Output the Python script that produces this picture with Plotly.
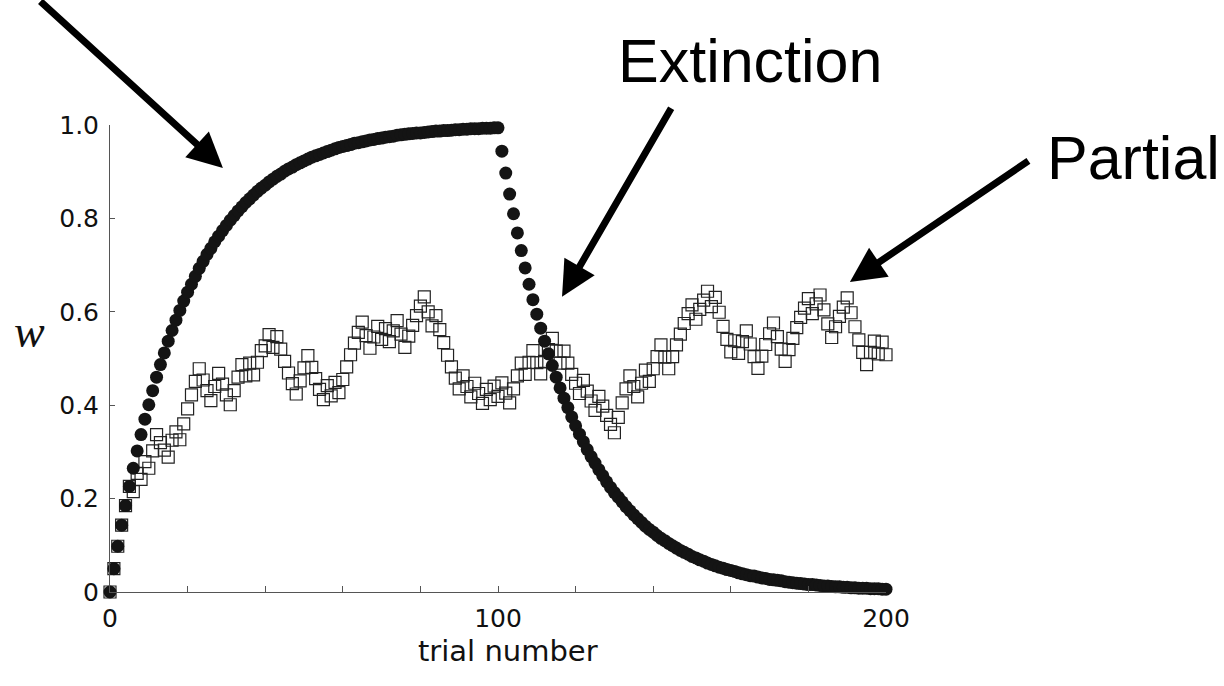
import plotly.graph_objects as go

# ---- data ----
trials = list(range(0, 201))

acquisition = [0, .050, .098, .143, .185, .226, .265, .302, .337, .370,
               .401, .431, .460, .487, .512, .537, .560, .582, .603, .623,
               .642, .659, .676, .693, .708, .723, .736, .750, .762, .774,
               .785, .796, .806, .816, .825, .834, .842, .850, .858, .865,
               .871, .878, .884, .890, .895, .901, .906, .910, .915, .919,
               .923, .927, .931, .934, .937, .940, .943, .946, .949, .952,
               .954, .956, .958, .961, .962, .964, .966, .968, .969, .971,
               .972, .974, .975, .976, .978, .979, .980, .981, .982, .983,
               .983, .984, .985, .986, .987, .987, .988, .988, .989, .990,
               .990, .991, .991, .992, .992, .992, .993, .993, .993, .994,
               .994]
extinction = [.944, .897, .852, .810, .769, .731, .694, .659, .626, .595,
              .565, .537, .510, .485, .460, .437, .415, .395, .375, .356,
              .338, .322, .305, .290, .276, .262, .249, .236, .224, .213,
              .203, .193, .183, .174, .165, .157, .149, .141, .134, .128,
              .121, .115, .110, .104, .099, .094, .089, .085, .081, .076,
              .073, .069, .066, .062, .059, .056, .053, .051, .048, .046,
              .044, .041, .039, .037, .035, .034, .032, .030, .029, .027,
              .026, .025, .024, .022, .021, .020, .019, .018, .017, .016,
              .016, .015, .014, .013, .013, .012, .011, .011, .010, .010,
              .009, .009, .008, .008, .008, .007, .007, .007, .006, .006]
continuous = acquisition + extinction

partial = [0, .050, .098, .143, .185, .226, .215, .254, .241, .279,
           .265, .302, .337, .320, .304, .289, .325, .343, .326, .360,
           .392, .422, .451, .478, .454, .431, .410, .440, .468, .445,
           .422, .401, .431, .460, .487, .463, .490, .465, .492, .517,
           .527, .551, .524, .547, .520, .494, .469, .446, .424, .452,
           .480, .506, .481, .457, .434, .412, .442, .420, .449, .427,
           .455, .482, .508, .533, .556, .578, .549, .522, .546, .569,
           .541, .564, .536, .559, .581, .552, .524, .548, .571, .592,
           .612, .632, .600, .570, .592, .562, .534, .507, .482, .458,
           .435, .463, .440, .418, .447, .425, .404, .434, .412, .441,
           .419, .448, .426, .405, .435, .463, .490, .466, .492, .517,
           .491, .467, .494, .519, .543, .516, .490, .516, .490, .466,
           .447, .425, .453, .430, .409, .389, .419, .398, .378, .359,
           .341, .374, .405, .435, .463, .440, .418, .447, .475, .451,
           .478, .504, .529, .503, .478, .504, .529, .552, .575, .596,
           .615, .584, .605, .625, .644, .611, .631, .599, .569, .541,
           .514, .538, .511, .536, .559, .531, .504, .479, .505, .530,
           .553, .576, .547, .520, .494, .519, .543, .566, .588, .608,
           .628, .596, .617, .636, .604, .574, .545, .568, .590, .610,
           .630, .598, .568, .540, .513, .487, .513, .537, .510, .535,
           .508]

x_tickvals = [0, 20, 40, 60, 80, 100, 120, 140, 160, 180, 200]
x_ticktext = ["0", "", "", "", "", "100", "", "", "", "", "200"]
y_tickvals = [0, 0.2, 0.4, 0.6, 0.8, 1.0]
y_ticktext = ["0", "0.2", "0.4", "0.6", "0.8", "1.0"]

fig = go.Figure()

fig.add_trace(go.Scatter(
    x=trials, y=partial, mode="markers", cliponaxis=False,
    marker=dict(symbol="square-open", size=12, color="#222222",
                line=dict(width=1.2, color="#222222")),
    showlegend=False, hoverinfo="skip"))

fig.add_trace(go.Scatter(
    x=trials, y=continuous, mode="markers", cliponaxis=False,
    marker=dict(symbol="circle", size=13, color="#141414",
                line=dict(width=0)),
    showlegend=False, hoverinfo="skip"))

tick_font = dict(family="DejaVu Sans", size=25, color="#111111")

fig.update_xaxes(range=[0, 200], showgrid=False, zeroline=False,
                 showline=True, linecolor="#555555", linewidth=1,
                 ticks="inside", ticklen=6, tickcolor="#555555", tickwidth=1,
                 tickvals=x_tickvals, ticktext=x_ticktext,
                 tickfont=tick_font, ticklabelstandoff=4)
fig.update_yaxes(range=[0, 1], showgrid=False, zeroline=False,
                 showline=True, linecolor="#555555", linewidth=1,
                 ticks="inside", ticklen=5, tickcolor="#555555", tickwidth=1,
                 tickvals=y_tickvals, ticktext=y_ticktext,
                 tickfont=tick_font, ticklabelstandoff=5)

W, H = 1224, 686
L, R, T, B = 110, 338, 125, 94
pw, ph = W - L - R, H - T - B


def px(xp):
    return (xp - L) / pw


def py(yp):
    return (H - B - yp) / ph


annotations = [
    dict(text="Extinction", xref="paper", yref="paper", x=px(750), y=py(61),
         xanchor="center", yanchor="middle", showarrow=False,
         font=dict(family="Liberation Sans", size=61, color="#000000")),
    dict(text="Partial", xref="paper", yref="paper", x=px(1045), y=py(158),
         xanchor="left", yanchor="middle", showarrow=False,
         font=dict(family="Liberation Sans", size=61, color="#000000")),
    dict(text="<i>w</i>", xref="paper", yref="paper", x=px(29), y=py(331),
         xanchor="center", yanchor="middle", showarrow=False,
         font=dict(family="Liberation Serif", size=46, color="#111111")),
    dict(text="trial number", xref="paper", yref="paper", x=px(508), y=py(651),
         xanchor="center", yanchor="middle", showarrow=False,
         font=dict(family="DejaVu Sans", size=29, color="#111111")),
]

arrow_common = dict(xref="x", yref="y", text="", showarrow=True,
                    arrowhead=2, arrowsize=1, arrowwidth=7,
                    arrowcolor="#000000", standoff=0)
annotations += [
    dict(x=29.1, y=0.908, ax=-184, ay=-172, **arrow_common),
    dict(x=116.5, y=0.632, ax=110, ay=-190, **arrow_common),
    dict(x=190.7, y=0.664, ax=180, ay=-122, **arrow_common),
]

fig.update_layout(width=W, height=H,
                  margin=dict(l=L, r=R, t=T, b=B, autoexpand=False),
                  paper_bgcolor="white", plot_bgcolor="white",
                  annotations=annotations)

fig.write_html("out.html")
